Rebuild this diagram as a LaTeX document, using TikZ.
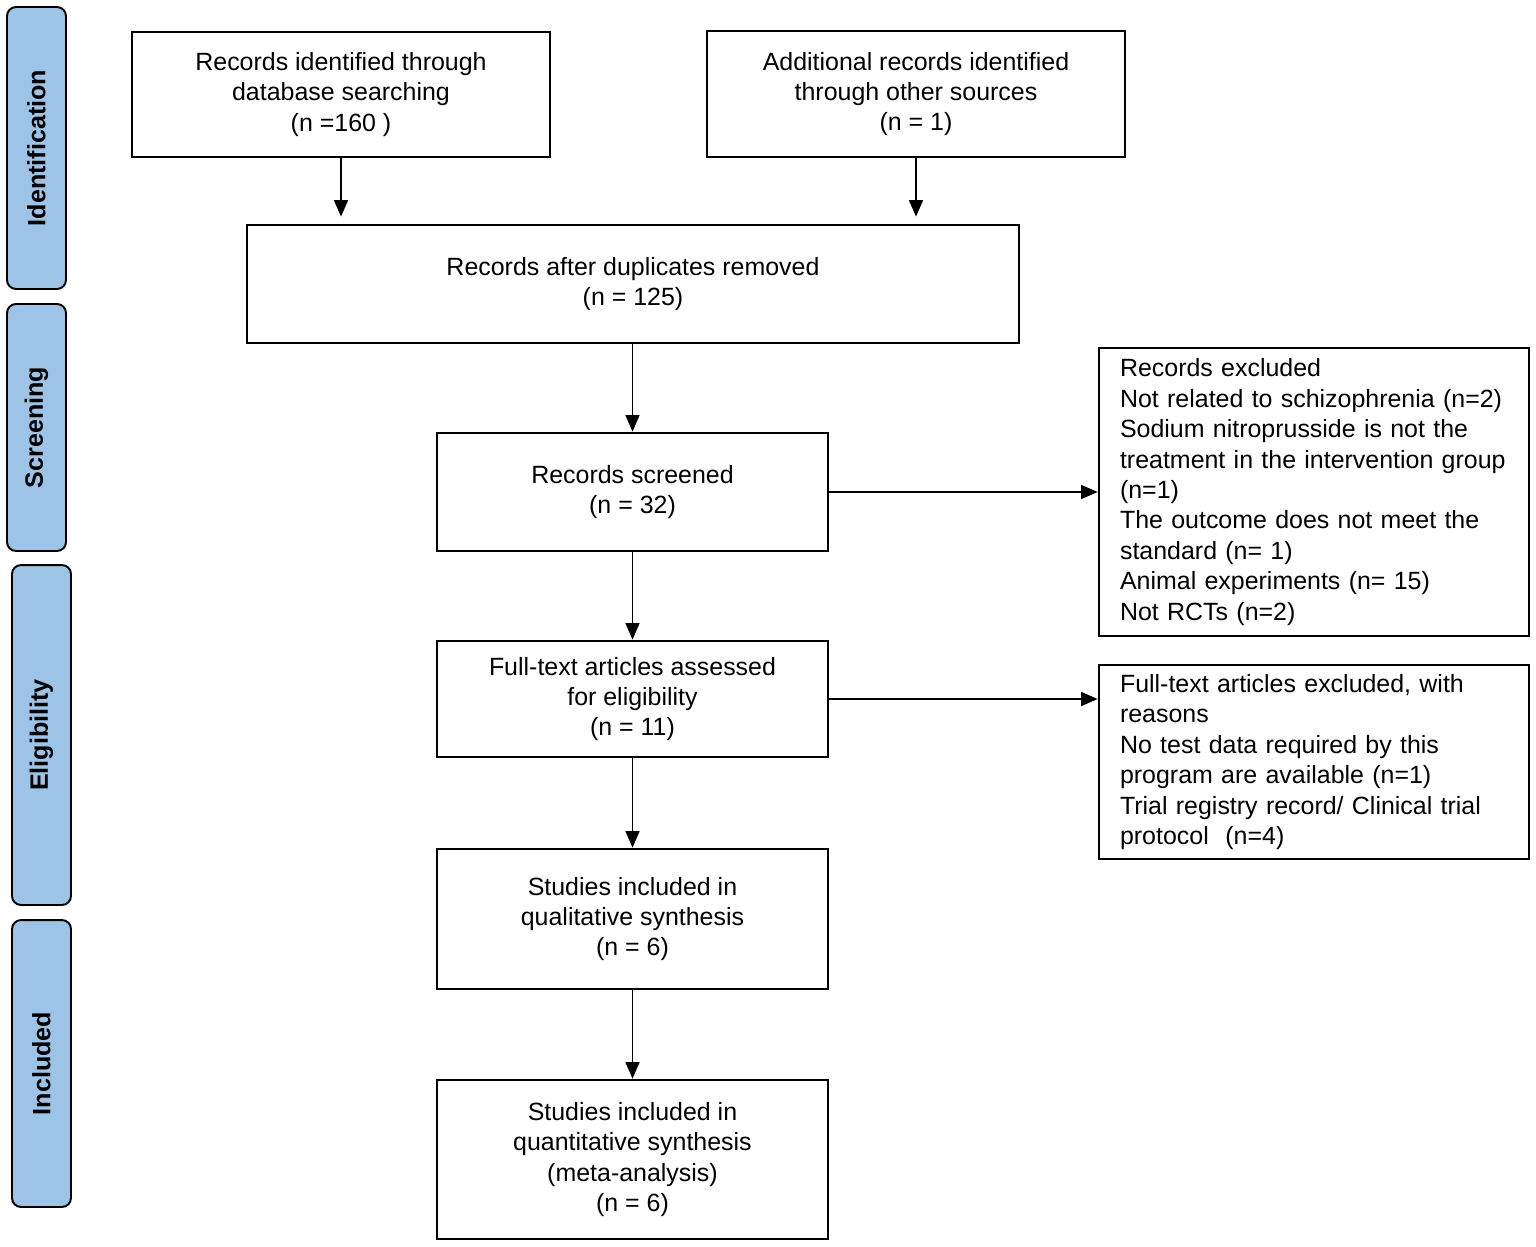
\documentclass[tikz,border=0pt]{standalone}
\usepackage{fontspec}
\setmainfont{Liberation Sans}
\usetikzlibrary{arrows.meta}
\definecolor{sidefill}{RGB}{157,195,230}
\begin{document}
\begin{tikzpicture}[x=0.02cm,y=-0.02cm,
  every node/.style={font=\fontsize{14.2}{17.3}\selectfont},
  box/.style={draw=black, line width=1.6pt, rectangle, align=center, inner sep=0pt},
  lbox/.style={draw=black, line width=1.6pt, rectangle, align=left, inner xsep=0.42cm, inner ysep=0pt, text width=7.76cm},
  side/.style={draw=black, line width=1.1pt, fill=sidefill, rounded corners=0.18cm, rotate=90, inner sep=0pt, font=\fontsize{14.3}{17.3}\selectfont\bfseries},
  arr/.style={line width=0.9pt, -{Triangle[length=0.33cm,width=0.28cm]}}]
\useasboundingbox (0,0) rectangle (1536,1247);

% side phase labels
\node[side, minimum width=5.64cm, minimum height=1.18cm] (s1) at (36.5,148) {Identification};
\node[side, minimum width=4.94cm, minimum height=1.18cm] (s2) at (36.5,427.5) {Screening};
\node[side, minimum width=6.8cm, minimum height=1.18cm] (s3) at (41.5,735) {Eligibility};
\node[side, minimum width=5.74cm, minimum height=1.18cm] (s4) at (41.5,1063.5) {Included};

% main boxes
\node[box, minimum width=8.36cm, minimum height=2.5cm] (A) at (341,94.5) {Records identified through\\database searching\\(n =160 )};
\node[box, minimum width=8.36cm, minimum height=2.52cm] (B) at (916,94) {Additional records identified\\through other sources\\(n = 1)};
\node[box, minimum width=15.44cm, minimum height=2.36cm] (C) at (633,284) {Records after duplicates removed\\(n = 125)};
\node[box, minimum width=7.82cm, minimum height=2.36cm] (D) at (632.5,492) {Records screened\\(n = 32)};
\node[box, minimum width=7.82cm, minimum height=2.32cm] (E) at (632.5,699) {Full-text articles assessed\\for eligibility\\(n = 11)};
\node[box, minimum width=7.82cm, minimum height=2.8cm] (F) at (632.5,919) {Studies included in\\qualitative synthesis\\(n = 6)};
\node[box, minimum width=7.82cm, minimum height=3.18cm] (G) at (632.5,1159.5) {Studies included in\\quantitative synthesis\\(meta-analysis)\\(n = 6)};

% exclusion boxes
\node[lbox, minimum height=5.76cm] (H) at (1314,492) {Records excluded\\\mbox{Not related to schizophrenia (n=2)}\\Sodium nitroprusside is not the\\\mbox{treatment in the intervention group}\\(n=1)\\The outcome does not meet the\\standard (n= 1)\\Animal experiments (n= 15)\\Not RCTs (n=2)};
\node[lbox, minimum height=3.88cm] (I) at (1314,762) {Full-text articles excluded, with\\reasons\\No test data required by this\\program are available (n=1)\\\mbox{Trial registry record/ Clinical trial}\\protocol~~(n=4)};

% connectors
\draw[arr, shorten >=0.14cm] (A.south) -- (A.south |- C.north);
\draw[arr, shorten >=0.14cm] (B.south) -- (B.south |- C.north);
\draw[arr] (D.north |- C.south) -- (D.north);
\draw[arr] (D.east) -- (D.east -| H.west);
\draw[arr] (D.south) -- (E.north);
\draw[arr] (E.east) -- (E.east -| I.west);
\draw[arr] (E.south) -- (F.north);
\draw[arr] (F.south) -- (G.north);
\end{tikzpicture}
\end{document}
